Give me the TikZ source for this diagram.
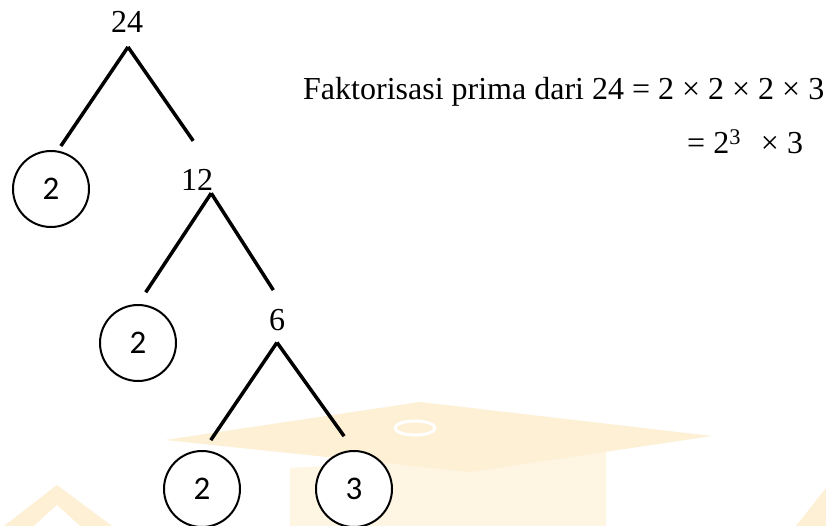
\documentclass[tikz,border=0pt]{standalone}
\usepackage{fontspec}
\setmainfont{Liberation Serif}
\newfontfamily\carlito{Carlito}
\definecolor{capfill}{HTML}{FDF0D5}
\definecolor{boxfill}{HTML}{FEF5E3}
\tikzset{
  num/.style={inner sep=0pt, font=\fontsize{32}{36}\selectfont},
  prime/.style={draw, circle, fill=white, line width=2pt, minimum size=76pt, inner sep=0pt,
    font=\carlito\fontsize{33}{36}\selectfont},
  branch/.style={line width=3.5pt},
}
\begin{document}
\begin{tikzpicture}[x=1pt, y=-1pt]
  \useasboundingbox[fill=white] (0,0) rectangle (826,526);

  % faint logo behind the tree
  \fill[boxfill] (290,468) -- (606,452) -- (606,526) -- (290,526) -- cycle;
  \fill[capfill] (165,440) -- (420,402) -- (712,436) -- (470,472) -- cycle;
  \draw[white, line width=3pt] (415,428) ellipse (20 and 7);
  \fill[capfill] (57,485) -- (112,526) -- (4,526) -- cycle;
  \fill[white] (57,505) -- (80,526) -- (34,526) -- cycle;
  \fill[capfill] (826,488) -- (826,526) -- (796,526) -- cycle;

  % composite numbers
  \node[num, anchor=base] (n24) at (127,33)  {24};
  \node[num, anchor=base] (n12) at (197,191) {12};
  \node[num, anchor=base] (n6)  at (277,330) {6};

  % prime factors
  \node[prime] (p1) at (51,189)  {2};
  \node[prime] (p2) at (138,343) {2};
  \node[prime] (p3) at (202,489) {2};
  \node[prime] (p4) at (354,489) {3};

  % tops of the branches
  \coordinate (a24) at ([shift={(1pt,-14pt)}]n24.base);
  \coordinate (a12) at ([shift={(-2pt,-2pt)}]n12.south east);
  \coordinate (a6)  at ([yshift=-12pt]n6.south);

  \def\list {a24/p1.80/5.5, a24/n12.north east/35, a12/p2.north/14,
    a12/n6.north east/22, a6/p3.87/12, a6/p4.north/17}  % from/to/gap
  \foreach \u/\v/\gap in \list
  {  \draw[branch, shorten >=\gap pt] (\u) -- (\v);
  }

  % result
  \node[num, anchor=base west] (res1) at (303,100)
    {Faktorisasi prima dari 24 = 2 × 2 × 2 × 3};
  \node[num, anchor=base west] (res2) at (687,154)
    {= 2\textsuperscript{3}\hspace{20pt}× 3};
\end{tikzpicture}
\end{document}
